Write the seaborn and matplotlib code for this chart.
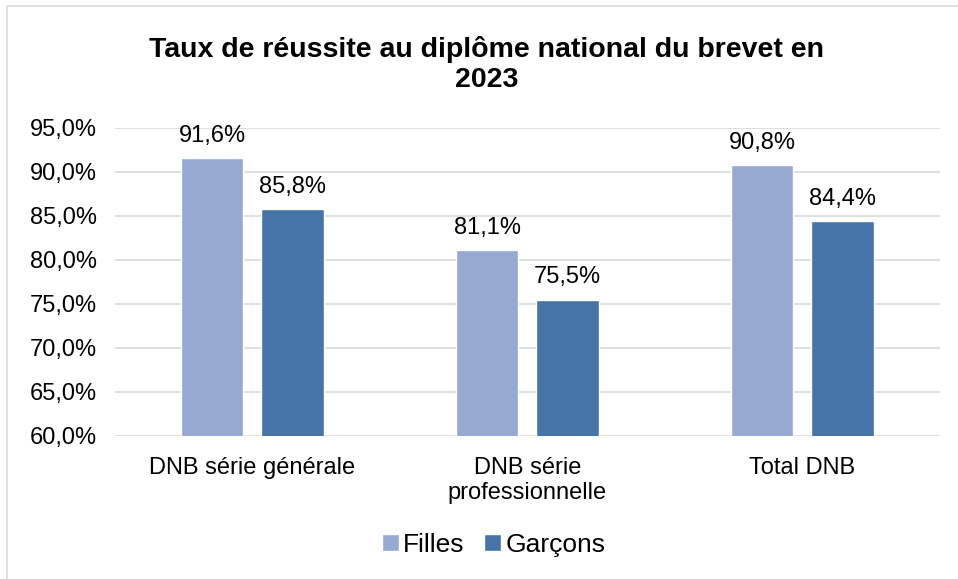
import matplotlib.pyplot as plt
import pandas as pd
import seaborn as sns
from matplotlib.patches import Rectangle

categories = ["DNB série générale", "DNB série\nprofessionnelle", "Total DNB"]
filles = [91.6, 81.1, 90.8]
garcons = [85.8, 75.5, 84.4]
series = ["Filles", "Garçons"]
yticks = [60, 65, 70, 75, 80, 85, 90, 95]

df = pd.DataFrame({
    "cat": categories * 2,
    "val": filles + garcons,
    "serie": ["Filles"] * 3 + ["Garçons"] * 3,
})

sns.set_style("white")
plt.rcParams["font.family"] = ["Liberation Sans", "DejaVu Sans"]
plt.rcParams["text.color"] = "black"
plt.rcParams["xtick.color"] = "black"
plt.rcParams["ytick.color"] = "black"

fig = plt.figure(figsize=(9.58, 5.79), dpi=100)
ax = fig.add_axes([0.12, 0.247, 0.861, 0.532])

# light frame around the chart, like the office export
fig.patches.append(Rectangle((7 / 958, -0.1), 1.1, 1 - 6 / 579 + 0.1,
                             transform=fig.transFigure, fill=False,
                             edgecolor="#D9D9D9", linewidth=1.2))

colors = {"Filles": "#95A9D1", "Garçons": "#4673A8"}
sns.barplot(data=df, x="cat", y="val", hue="serie", palette=colors,
            saturation=1, width=0.585, gap=0.225, ax=ax, legend=True)

ax.set_ylim(60, 95)
ax.set_yticks(yticks)
ax.set_yticklabels([f"{v:.1f}%".replace(".", ",") for v in yticks], fontsize=17)
ax.tick_params(axis="x", labelsize=17, length=0, pad=15)
ax.tick_params(axis="y", length=0, pad=13)
ax.yaxis.grid(True, color="#D9D9D9", linewidth=1.2)
ax.set_axisbelow(True)
for s in ax.spines.values():
    s.set_visible(False)
ax.set_xlabel("")
ax.set_ylabel("")

for cont in ax.containers:
    labels = [f"{b.get_height():.1f}%".replace(".", ",") for b in cont]
    ax.bar_label(cont, labels=labels, padding=8, fontsize=17)

fig.text(0.508, 0.888, "Taux de réussite au diplôme national du brevet en\n2023",
         ha="center", va="center", fontsize=20.5, fontweight="bold", linespacing=1.2)

handles, labs = ax.get_legend_handles_labels()
ax.legend_.remove()
fig.legend(handles, labs, loc="center", bbox_to_anchor=(0.515, 0.059), ncol=2,
           frameon=False, fontsize=19, handlelength=0.65, handleheight=0.65,
           handletextpad=0.15, columnspacing=0.75)

fig.savefig("out.png", dpi=100)
